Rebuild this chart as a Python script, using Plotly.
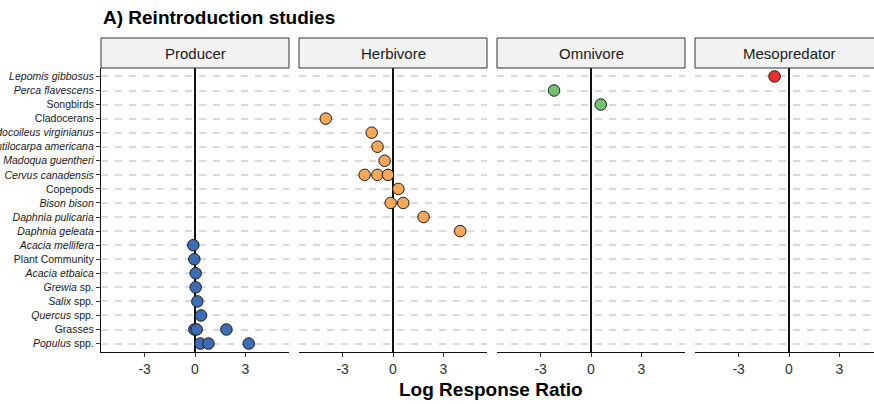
import plotly.graph_objects as go

# ---------------- data ----------------
categories = [
    "<i>Lepomis gibbosus</i>", "<i>Perca flavescens</i>", "Songbirds", "Cladocerans",
    "<i>Odocoileus virginianus</i>", "<i>Antilocarpa americana</i>", "<i>Madoqua guentheri</i>",
    "<i>Cervus canadensis</i>", "Copepods", "<i>Bison bison</i>", "<i>Daphnia pulicaria</i>",
    "<i>Daphnia geleata</i>", "<i>Acacia mellifera</i>", "Plant Community",
    "<i>Acacia etbaica</i>", "<i>Grewia</i> sp.", "<i>Salix</i> spp.", "<i>Quercus</i> spp.",
    "Grasses", "<i>Populus</i> spp.",
]
panels = ["Producer", "Herbivore", "Omnivore", "Mesopredator"]

producer_rows = ["<i>Acacia mellifera</i>", "Plant Community", "<i>Acacia etbaica</i>",
                 "<i>Grewia</i> sp.", "<i>Salix</i> spp.", "<i>Quercus</i> spp.",
                 "Grasses", "Grasses", "Grasses",
                 "<i>Populus</i> spp.", "<i>Populus</i> spp.", "<i>Populus</i> spp."]
producer_values = [-0.1, -0.04, 0.04, 0.04, 0.14, 0.36, -0.04, 0.1, 1.87, 0.32, 0.8, 3.2]

herbivore_rows = ["Cladocerans", "<i>Odocoileus virginianus</i>", "<i>Antilocarpa americana</i>",
                  "<i>Madoqua guentheri</i>", "<i>Cervus canadensis</i>", "<i>Cervus canadensis</i>",
                  "<i>Cervus canadensis</i>", "Copepods", "<i>Bison bison</i>", "<i>Bison bison</i>",
                  "<i>Daphnia pulicaria</i>", "<i>Daphnia geleata</i>"]
herbivore_values = [-4.0, -1.27, -0.92, -0.5, -1.69, -0.93, -0.3, 0.32, -0.14, 0.61, 1.82, 4.0]

omnivore_rows = ["<i>Perca flavescens</i>", "Songbirds"]
omnivore_values = [-2.2, 0.58]

mesopredator_rows = ["<i>Lepomis gibbosus</i>"]
mesopredator_values = [-0.86]

x_ticks = [-3, 0, 3]
x_ticklabels = ["-3", "0", "3"]

colors = ["#3C6DB4", "#F9A85A", "#72C170", "#EE302A"]

panel_data = [
    (producer_rows, producer_values),
    (herbivore_rows, herbivore_values),
    (omnivore_rows, omnivore_values),
    (mesopredator_rows, mesopredator_values),
]

# ---------------- layout geometry ----------------
W, H = 874, 404
ML, MT, MB = 101, 68, 52
MR = 0
PW = W - ML - MR
PH = H - MT - MB
panel_px = [(0, 188), (198, 386), (396, 584), (594, 773)]
px_per_unit = 16.8
zero_offset = 94  # px from panel left edge to x = 0
FONT = "Liberation Sans, Arial"

cat_index = {c: i for i, c in enumerate(categories)}

fig = go.Figure()
layout_axes = {}
shapes = []
annotations = []

for k, (name, (rows, vals)) in enumerate(zip(panels, panel_data)):
    xa = "x" if k == 0 else f"x{k+1}"
    ya = "y" if k == 0 else f"y{k+1}"
    fig.add_trace(go.Scatter(
        x=vals, y=[cat_index[r] for r in rows], mode="markers",
        xaxis=xa, yaxis=ya, showlegend=False,
        marker=dict(size=11.5, color=colors[k], line=dict(color="#1a1a1a", width=1)),
        hoverinfo="x+y",
    ))
    p0, p1 = panel_px[k]
    d0, d1 = p0 / PW, p1 / PW
    xmin = -zero_offset / px_per_unit
    xmax = ((p1 - p0) - zero_offset) / px_per_unit
    key_x = "xaxis" if k == 0 else f"xaxis{k+1}"
    key_y = "yaxis" if k == 0 else f"yaxis{k+1}"
    layout_axes[key_x] = dict(
        domain=[d0, d1], anchor=ya, range=[xmin, xmax],
        tickvals=x_ticks, ticktext=x_ticklabels,
        showgrid=False, zeroline=True, zerolinecolor="#111111", zerolinewidth=1.8,
        showline=True, linecolor="#111111", linewidth=1.3,
        ticks="outside", ticklen=4, tickcolor="#333333", tickwidth=1.2,
        tickfont=dict(size=14, color="#333333", family=FONT),
        fixedrange=True, automargin=False,
    )
    yax = dict(
        domain=[0, 1], anchor=xa, range=[len(categories) - 0.4, -0.6],
        tickvals=list(range(len(categories))), ticktext=categories,
        showgrid=True, gridcolor="#dadada", gridwidth=1.8, griddash="7px,7px",
        zeroline=False, fixedrange=True, automargin=False,
    )
    if k == 0:
        yax.update(showline=True, linecolor="#111111", linewidth=1.3,
                   ticks="outside", ticklen=4, tickcolor="#333333", tickwidth=1.2,
                   tickfont=dict(size=10.5, color="#1a1a1a", family=FONT))
    else:
        yax.update(matches="y", showticklabels=False, ticks="", showline=False)
    layout_axes[key_y] = yax

    # strip header
    sx1 = d1 if k < 3 else 1.03
    shapes.append(dict(type="rect", xref="paper", yref="paper",
                       x0=d0, x1=sx1, y0=1.0, y1=1 + 30 / PH,
                       fillcolor="#f2f2f2", line=dict(color="#333333", width=1), layer="above"))
    annotations.append(dict(text=name, xref="paper", yref="paper",
                            x=(p0 + 94) / PW if k == 3 else (d0 + d1) / 2,
                            y=1 + 14.5 / PH, showarrow=False,
                            xanchor="center", yanchor="middle",
                            font=dict(size=15, color="#1a1a1a", family=FONT)))

annotations.append(dict(text="<b>A) Reintroduction studies</b>", xref="paper", yref="paper",
                        x=0, y=(352 - 17.5) / PH,
                        xanchor="left", yanchor="middle", showarrow=False,
                        font=dict(size=19, color="#000000", family=FONT)))
annotations.append(dict(text="<b>Log Response Ratio</b>", xref="paper", yref="paper",
                        x=(491.5 - ML) / PW, y=(352 - 389.5) / PH,
                        xanchor="center", yanchor="middle", showarrow=False,
                        font=dict(size=19, color="#000000", family=FONT)))

fig.update_layout(
    width=W, height=H,
    margin=dict(l=ML, r=MR, t=MT, b=MB, pad=0),
    paper_bgcolor="white", plot_bgcolor="white",
    shapes=shapes, annotations=annotations,
    font=dict(family=FONT),
    **layout_axes,
)

# remove the default 8px page margin so the figure fills the window exactly
fig.write_html(
    "out.html",
    config={"displayModeBar": False},
    post_script="document.body.style.margin='0px';document.body.style.overflow='hidden';",
)
